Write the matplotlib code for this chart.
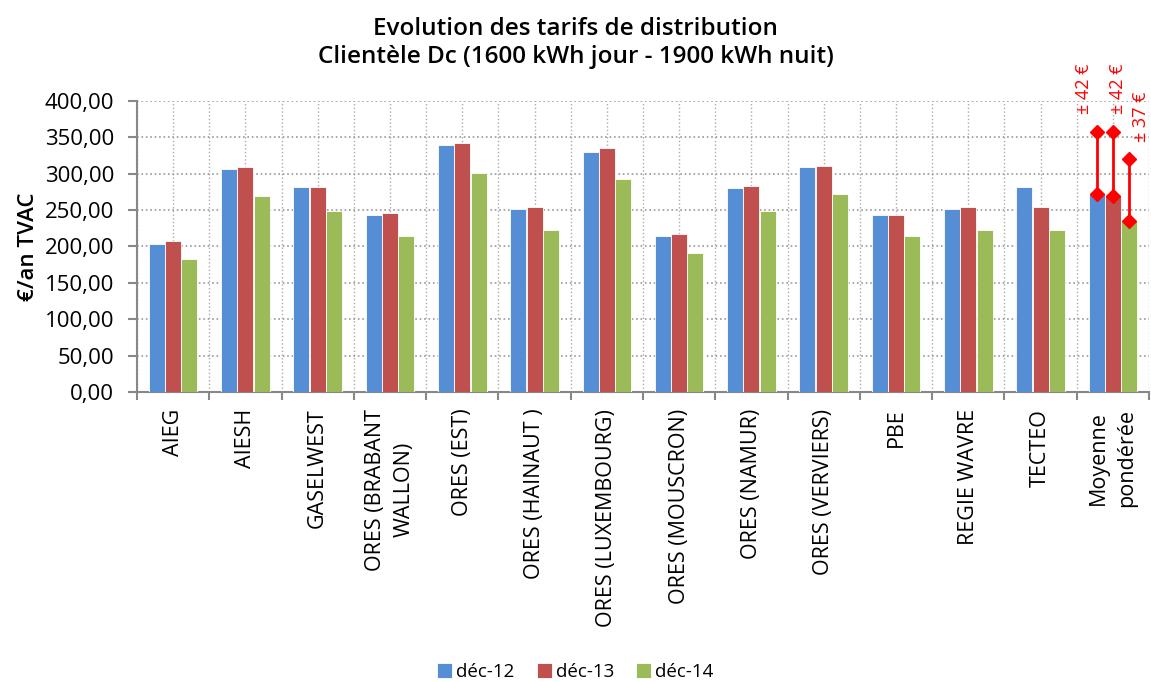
import numpy as np
import matplotlib
matplotlib.use("Agg")
import matplotlib.pyplot as plt
from matplotlib.ticker import FuncFormatter

plt.rcParams['font.family'] = ['Open Sans', 'DejaVu Sans']

# data
categories = ["AIEG", "AIESH", "GASELWEST", "ORES (BRABANT\nWALLON)", "ORES (EST)",
              "ORES (HAINAUT )", "ORES (LUXEMBOURG)", "ORES (MOUSCRON)", "ORES (NAMUR)",
              "ORES (VERVIERS)", "PBE", "REGIE WAVRE", "TECTEO", "Moyenne\npondérée"]
dec12 = [203.8, 305.9, 282.0, 243.2, 339.7, 251.0, 329.2, 214.4, 279.8, 308.6, 243.2, 251.0, 282.0, 272.0]
dec13 = [207.7, 308.6, 282.0, 245.9, 342.4, 253.8, 334.7, 217.1, 282.6, 310.9, 243.2, 253.8, 253.8, 269.3]
dec14 = [182.8, 269.3, 248.3, 214.4, 300.8, 222.2, 292.6, 191.1, 248.3, 272.0, 214.4, 222.2, 222.2, 234.6]
series_names = ["déc-12", "déc-13", "déc-14"]
colors = ["#558ED5", "#C0504D", "#9BBB59"]

# spread bars on the weighted average (upper ends as drawn)
err_top = [357.5, 357.5, 320.0]
err_labels = ["± 42 €", "± 42 €", "± 37 €"]

fig = plt.figure(figsize=(11.51, 6.82), dpi=100)
ax = fig.add_axes([137/1151, 1-392/682, (1149-137)/1151, (392-100.7)/682])

x = np.arange(len(categories))
w = 0.22
offsets = [-0.225, 0.0, 0.225]
for vals, off, c, name in zip([dec12, dec13, dec14], offsets, colors, series_names):
    ax.bar(x + off, vals, width=w, color=c, edgecolor="white", linewidth=0.6, label=name, zorder=3)

# error bars on the last group
last = len(categories) - 1
lows = [dec12[last], dec13[last], dec14[last]]
shift = [(-13, 18), (5, 18), (12, 17)]
for off, lo, hi, lab, s in zip(offsets, lows, err_top, err_labels, shift):
    ax.plot([last + off, last + off], [lo, hi], color="red", lw=2, marker="D", ms=7, zorder=5)
    ax.annotate(lab, (last + off, hi), xytext=s, textcoords="offset pixels",
                rotation=90, ha="center", va="bottom", color="red", fontsize=13,
                annotation_clip=False)

ax.set_xlim(-0.5, len(categories) - 0.5)
ax.set_ylim(0, 400)
ax.set_yticks(np.arange(0, 401, 50))
ax.yaxis.set_major_formatter(FuncFormatter(lambda v, p: f"{v:.2f}".replace(".", ",")))

ax.set_xticks(x)
ax.set_xticklabels(categories, rotation=90, fontsize=15.5, va="top", ha="center",
                   multialignment="center", linespacing=1.45)
ax.set_xticks(np.arange(-0.5, len(categories)), minor=True)
ax.tick_params(axis="x", which="major", length=0, pad=12)
ax.tick_params(axis="x", which="minor", length=6, color="#888888", width=1.5)
ax.tick_params(axis="y", length=6.5, color="#888888", width=1.5, labelsize=16, pad=10)

ax.grid(axis="y", which="major", linestyle=":", color="#999999", lw=1.2, zorder=0)
ax.grid(axis="x", which="both", linestyle=":", color="#aaaaaa", lw=1.0, zorder=0)
ax.set_axisbelow(True)

for sp in ["top", "right"]:
    ax.spines[sp].set_visible(False)
for sp in ["left", "bottom"]:
    ax.spines[sp].set_color("#888888")
    ax.spines[sp].set_linewidth(1.5)

ax.set_ylabel("€/an TVAC", fontsize=16, fontweight="semibold", labelpad=4)

fig.text(0.5, 1-35/682, "Evolution des tarifs de distribution", ha="center", va="baseline",
         fontsize=17.5, fontweight="semibold")
fig.text(0.5, 1-63/682, "Clientèle Dc (1600 kWh jour - 1900 kWh nuit)", ha="center", va="baseline",
         fontsize=17.5, fontweight="semibold")

fig.legend(loc="center", bbox_to_anchor=(0.5, 1-672/682), ncol=3, frameon=False,
           fontsize=13.5, handlelength=0.8, handleheight=0.8, handletextpad=0.2, columnspacing=1.2)

fig.savefig("out.png", dpi=100)
